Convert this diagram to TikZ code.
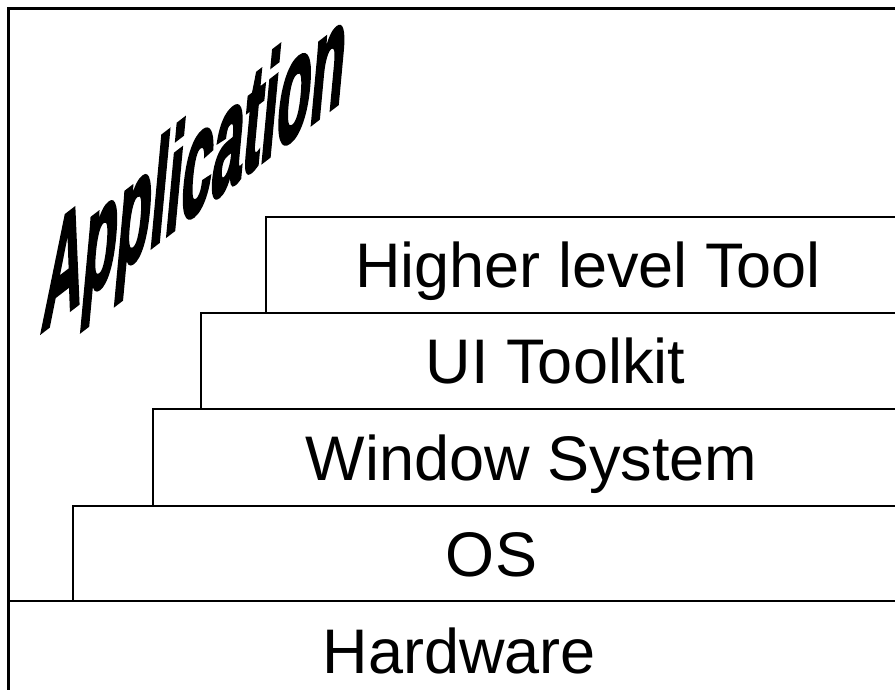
\documentclass[tikz,border=0pt]{standalone}
\usepackage{fontspec}
\setmainfont{Liberation Sans}
\newfontfamily\appfont[FakeBold=3]{Liberation Sans Bold}

\begin{document}
\begin{tikzpicture}[x=1pt, y=-1pt,
    layer/.style={draw, line width=2pt, anchor=north west, inner sep=0pt,
      font=\fontsize{63}{70}\selectfont, text height=45pt, text depth=0pt},
    apptext/.style={anchor=base west, inner sep=0pt,
      font=\fontsize{142}{142}\selectfont\appfont,
      yslant=0.77, xslant=0.1, xscale=0.39}]

    \useasboundingbox (0,0) rectangle (895,690);
    \clip (0,0) rectangle (895,690);

    % --- Moldura externa
    \draw[line width=3pt] (8,9) rectangle (909,700);

    % --- Camadas (de baixo para cima)
    \node[layer, minimum width=901, minimum height=100] (hw)  at (8,600)   {Hardware};
    \node[layer, minimum width=837, minimum height=95]  (os)  at (72,505)  {OS};
    \node[layer, minimum width=757, minimum height=97]  (ws)  at (152,408) {Window System};
    \node[layer, minimum width=709, minimum height=96]  (uit) at (200,312) {UI Toolkit};
    \node[layer, minimum width=644, minimum height=96]  (hlt) at (265,216) {Higher level Tool};

    % --- Texto inclinado
    \node[apptext] (app) at (40,333) {Application};

\end{tikzpicture}
\end{document}
